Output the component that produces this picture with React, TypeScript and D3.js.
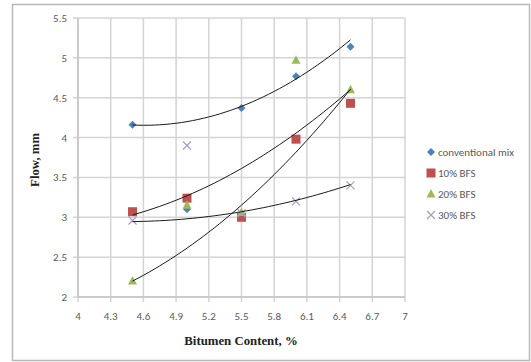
import React from "react";
import * as d3 from "d3";

const bitumen = [4.5, 5.0, 5.5, 6.0, 6.5];
const conventional = [4.16, 3.1, 4.37, 4.77, 5.14];
const bfs10 = [3.07, 3.24, 3.0, 3.98, 4.43];
const bfs20 = [2.2, 3.15, 3.06, 4.97, 4.6];
const bfs30 = [2.96, 3.9, 3.05, 3.2, 3.4];

// trendline values at each bitumen content
const trendConventional = [4.15, 4.22, 4.38, 4.73, 5.23];
const trend10 = [3.05, 3.22, 3.64, 4.07, 4.59];
const trend20 = [2.2, 2.63, 3.1, 3.87, 4.59];
const trend30 = [2.94, 2.99, 3.08, 3.19, 3.42];

const xTicks = [4, 4.3, 4.6, 4.9, 5.2, 5.5, 5.8, 6.1, 6.4, 6.7, 7];
const yTicks = [2, 2.5, 3, 3.5, 4, 4.5, 5, 5.5];
const seriesNames = ["conventional mix", "10% BFS", "20% BFS", "30% BFS"];
const colors = ["#4F81BD", "#C0504D", "#9BBB59", "#A59DC4"];

const W = 531;
const H = 362;
const x = d3.scaleLinear().domain([4, 7]).range([78, 405]);
const y = d3.scaleLinear().domain([2, 5.5]).range([297, 18]);

// least-squares quadratic through the trend samples
function quadFit(xs: number[], ys: number[]) {
  const m = d3.mean(xs) as number;
  const u = xs.map((v) => v - m);
  const S = [0, 0, 0, 0, 0];
  const T = [0, 0, 0];
  u.forEach((v, i) => {
    for (let k = 0; k < 5; k++) S[k] += Math.pow(v, k);
    for (let k = 0; k < 3; k++) T[k] += Math.pow(v, k) * ys[i];
  });
  const A = [
    [S[0], S[1], S[2], T[0]],
    [S[1], S[2], S[3], T[1]],
    [S[2], S[3], S[4], T[2]],
  ];
  for (let c = 0; c < 3; c++) {
    for (let r = c + 1; r < 3; r++) {
      const f = A[r][c] / A[c][c];
      for (let k = c; k < 4; k++) A[r][k] -= f * A[c][k];
    }
  }
  const coef = [0, 0, 0];
  for (let r = 2; r >= 0; r--) {
    let s = A[r][3];
    for (let k = r + 1; k < 3; k++) s -= A[r][k] * coef[k];
    coef[r] = s / A[r][r];
  }
  return (xv: number) => coef[0] + coef[1] * (xv - m) + coef[2] * (xv - m) * (xv - m);
}

function Marker({ kind, cx, cy, color }: { kind: number; cx: number; cy: number; color: string }) {
  if (kind === 0) {
    const s = 4;
    return <path d={`M${cx},${cy - s}L${cx + s},${cy}L${cx},${cy + s}L${cx - s},${cy}Z`} fill={color} />;
  }
  if (kind === 1) {
    return <rect x={cx - 4.5} y={cy - 4.5} width={9} height={9} fill={color} />;
  }
  if (kind === 2) {
    return <path d={`M${cx},${cy - 5}L${cx + 4.5},${cy + 3.5}L${cx - 4.5},${cy + 3.5}Z`} fill={color} />;
  }
  const s = 4;
  return (
    <path
      d={`M${cx - s},${cy - s}L${cx + s},${cy + s}M${cx - s},${cy + s}L${cx + s},${cy - s}`}
      stroke={color}
      strokeWidth={1.2}
      fill="none"
    />
  );
}

export default function App() {
  const series = [conventional, bfs10, bfs20, bfs30];
  const trends = [trendConventional, trend10, trend20, trend30];
  const xs = d3.range(0, 41).map((i) => 4.5 + (i * 2) / 40);
  const line = d3
    .line<[number, number]>()
    .x((d) => x(d[0]))
    .y((d) => y(d[1]));
  const labelFont = "Calibri, Carlito, 'Liberation Sans', Arial, sans-serif";
  const titleFont = "'Liberation Serif', 'Times New Roman', serif";
  return (
    <div style={{ position: "absolute", left: 0, top: 0 }}>
      <svg width={W} height={H} style={{ display: "block" }}>
        <rect x={0} y={0} width={W} height={H} fill="#ffffff" />
        <rect x={12.5} y={4.5} width={517} height={356} fill="none" stroke="#b8b8b8" strokeWidth={1.5} />
        {/* grid */}
        {xTicks.map((t) => (
          <line key={"gx" + t} x1={x(t)} x2={x(t)} y1={y(5.5)} y2={y(2) + 5} stroke="#d4d4d4" strokeWidth={1.5} />
        ))}
        {yTicks.map((t) => (
          <line key={"gy" + t} x1={x(4) - 5} x2={x(7)} y1={y(t)} y2={y(t)} stroke="#d4d4d4" strokeWidth={1.5} />
        ))}
        <line x1={x(4)} x2={x(4)} y1={y(5.5)} y2={y(2)} stroke="#c4c4c4" strokeWidth={1.5} />
        <line x1={x(4)} x2={x(7)} y1={y(2)} y2={y(2)} stroke="#c4c4c4" strokeWidth={1.5} />
        {/* tick labels */}
        {xTicks.map((t) => (
          <text key={"tx" + t} x={x(t)} y={320} textAnchor="middle" fontFamily={labelFont} fontSize={11} fill="#595959">
            {t}
          </text>
        ))}
        {yTicks.map((t) => (
          <text key={"ty" + t} x={67} y={y(t) + 4} textAnchor="end" fontFamily={labelFont} fontSize={11} fill="#595959">
            {t}
          </text>
        ))}
        {/* axis titles */}
        <text x={241} y={345} textAnchor="middle" fontFamily={titleFont} fontWeight="bold" fontSize={12.8} fill="#222">
          Bitumen Content, %
        </text>
        <text
          transform={`translate(39,${y(3.72)}) rotate(-90)`}
          textAnchor="middle"
          fontFamily={titleFont}
          fontWeight="bold"
          fontSize={12.8}
          fill="#222"
        >
          Flow, mm
        </text>
        {/* markers */}
        {series.map((s, si) =>
          s.map((v, i) => <Marker key={si + "-" + i} kind={si} cx={x(bitumen[i])} cy={y(v)} color={colors[si]} />)
        )}
        {/* trendlines */}
        {trends.map((t, i) => {
          const f = quadFit(bitumen, t);
          const pts = xs.map((v) => [v, f(v)] as [number, number]);
          return <path key={"tr" + i} d={line(pts) || ""} fill="none" stroke="#1a1a1a" strokeWidth={1} />;
        })}
        {/* legend */}
        {seriesNames.map((n, i) => {
          const ly = 152 + i * 21;
          return (
            <g key={n}>
              <Marker kind={i} cx={431} cy={ly} color={colors[i]} />
              <text x={438} y={ly + 4} fontFamily={labelFont} fontSize={11} fill="#595959">
                {n}
              </text>
            </g>
          );
        })}
      </svg>
    </div>
  );
}
